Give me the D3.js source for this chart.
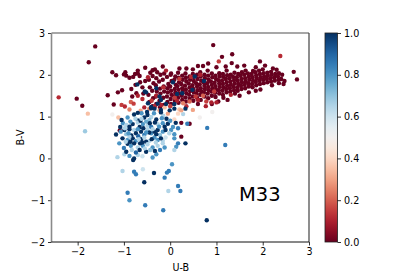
<!doctype html>
<html lang="en">
<head>
  <meta charset="utf-8">
  <title>M33 colour-colour</title>
  <script src="https://d3js.org/d3.v7.min.js"></script>
  <style>
    body { margin: 0; background: #fff; }
    text { font-family: "DejaVu Sans", sans-serif; fill: #000; }
  </style>
</head>
<body>
  <div id="chart"></div>
  <script>
    // axis ticks
    const xTicks = [-2, -1, 0, 1, 2, 3];
    const yTicks = [-2, -1, 0, 1, 2, 3];
    const cbarTicks = [0.0, 0.2, 0.4, 0.6, 0.8, 1.0];

    // dense red giant branch blob [U-B, B-V], probability ~0
    const redBlobProb = 0.0;
    const redBlob = [
      [-0.45,1.35],[-0.47,1.52],[-0.44,1.70],[-0.46,1.88],[-0.43,2.05],
      [-0.38,1.25],[-0.37,1.44],[-0.39,1.62],[-0.36,1.80],[-0.38,1.97],
      [-0.30,1.30],[-0.31,1.48],[-0.29,1.60],[-0.31,1.75],[-0.30,1.92],[-0.28,2.06],
      [-0.22,1.22],[-0.23,1.38],[-0.21,1.55],[-0.22,1.67],[-0.24,1.84],[-0.21,2.00],
      [-0.14,1.28],[-0.15,1.45],[-0.13,1.60],[-0.14,1.72],[-0.16,1.88],[-0.13,2.03],
      [-0.06,1.35],[-0.07,1.48],[-0.05,1.58],[-0.06,1.68],[-0.04,1.78],[-0.07,1.95],
      [0.02,1.30],[0.01,1.42],[0.03,1.52],[0.02,1.62],[0.00,1.72],[0.03,1.85],[0.01,2.00],
      [0.10,1.38],[0.09,1.48],[0.11,1.57],[0.10,1.66],[0.12,1.76],[0.09,1.88],[0.11,1.96],
      [0.18,1.33],[0.17,1.45],[0.19,1.55],[0.18,1.64],[0.16,1.73],[0.19,1.82],[0.18,1.93],[0.17,2.05],
      [0.26,1.40],[0.25,1.50],[0.27,1.60],[0.26,1.68],[0.24,1.78],[0.27,1.88],[0.26,1.98],
      [0.34,1.36],[0.33,1.46],[0.35,1.56],[0.34,1.65],[0.32,1.74],[0.35,1.84],[0.34,1.93],[0.33,2.03],
      [0.42,1.42],[0.41,1.52],[0.43,1.61],[0.42,1.70],[0.40,1.79],[0.43,1.88],[0.42,1.96],
      [0.50,1.38],[0.49,1.48],[0.51,1.58],[0.50,1.66],[0.48,1.75],[0.51,1.85],[0.50,1.95],[0.49,2.02],
      [0.58,1.45],[0.57,1.55],[0.59,1.63],[0.58,1.72],[0.56,1.80],[0.59,1.90],[0.58,2.00],
      [0.66,1.40],[0.65,1.52],[0.67,1.60],[0.66,1.68],[0.64,1.77],[0.67,1.86],[0.66,1.96],[0.65,2.06],
      [0.74,1.48],[0.73,1.58],[0.75,1.66],[0.74,1.74],[0.72,1.82],[0.75,1.92],[0.74,2.00],
      [0.82,1.44],[0.81,1.55],[0.83,1.63],[0.82,1.71],[0.80,1.80],[0.83,1.88],[0.82,1.98],[0.81,2.10],
      [0.90,1.50],[0.89,1.60],[0.91,1.68],[0.90,1.76],[0.88,1.84],[0.91,1.94],[0.90,2.03],
      [0.98,1.47],[0.97,1.57],[0.99,1.65],[0.98,1.73],[0.96,1.81],[0.99,1.90],[0.98,1.98],
      [1.06,1.55],[1.05,1.63],[1.07,1.71],[1.06,1.79],[1.04,1.87],[1.07,1.96],[1.06,2.04],
      [1.14,1.52],[1.13,1.62],[1.15,1.70],[1.14,1.78],[1.12,1.86],[1.15,1.95],[1.14,2.02],
      [1.22,1.58],[1.21,1.66],[1.23,1.74],[1.22,1.82],[1.20,1.90],[1.23,1.99],[1.22,2.10],
      [1.30,1.60],[1.29,1.68],[1.31,1.76],[1.30,1.84],[1.28,1.92],[1.31,2.00],
      [1.38,1.63],[1.37,1.71],[1.39,1.79],[1.38,1.87],[1.36,1.95],[1.39,2.05],
      [1.46,1.62],[1.45,1.70],[1.47,1.78],[1.46,1.86],[1.44,1.94],[1.47,2.02],
      [1.54,1.66],[1.53,1.74],[1.55,1.82],[1.54,1.90],[1.52,1.98],[1.55,2.06],
      [1.62,1.68],[1.61,1.76],[1.63,1.84],[1.62,1.92],[1.60,2.00],[1.63,2.10],
      [1.70,1.72],[1.69,1.80],[1.71,1.88],[1.70,1.96],[1.68,2.03],
      [1.78,1.70],[1.77,1.78],[1.79,1.86],[1.78,1.94],[1.76,2.02],[1.79,2.09],
      [1.86,1.75],[1.85,1.83],[1.87,1.91],[1.86,1.99],[1.84,2.06],
      [1.94,1.78],[1.93,1.86],[1.95,1.94],[1.94,2.02],[1.92,2.10],
      [2.02,1.80],[2.01,1.88],[2.03,1.96],[2.02,2.04],[2.00,2.13],
      [2.10,1.82],[2.09,1.90],[2.11,1.98],[2.10,2.05],
      [2.18,1.84],[2.17,1.92],[2.19,2.00],[2.18,2.07],
      [2.26,1.86],[2.25,1.94],[2.27,2.02],
      [2.34,1.88],[2.33,1.96],[2.35,2.04],
      [2.40,1.90],[2.42,2.00],
      // halo around the blob
      [-0.33,2.13],[-0.16,2.20],[-0.54,2.17],[-0.38,2.11],[-0.70,2.03],[-0.66,1.97],
      [-0.88,1.93],[-0.54,1.85],[-0.60,1.70],[-0.58,1.55],[-0.65,1.82],
      [0.35,2.15],[0.49,2.13],[0.60,2.21],[0.71,2.21],[0.82,2.27],[1.33,2.28],[1.45,2.20],
      [1.60,2.22],[1.85,2.18],[2.05,2.22],[2.22,2.15],[0.02,2.03],[0.20,2.15],[1.00,2.18],
      [1.20,2.20],[0.93,2.71],[1.12,2.43],[1.34,2.49],[1.94,2.32],[2.67,2.07],[2.74,1.89],
      [0.90,1.30],[1.04,1.36],[1.24,1.40],[1.50,1.50],[1.70,1.58],[1.95,1.65],[2.20,1.75],
      [2.35,1.80],[2.45,1.78],[2.47,1.85],[0.60,1.30],[1.15,1.45],[1.40,1.55],[1.85,1.62],[2.30,2.12],
      // isolated dark red stars
      [-1.62,2.68],[-1.76,2.30],[-2.02,1.43],[-1.90,1.26],[-1.35,1.51],[-1.25,2.06],
      [-1.17,1.99],[-1.00,2.01],[-0.95,1.98],[-0.97,2.06],[-0.80,1.95],[-0.76,2.02],
      [-0.70,2.10],[-1.13,1.58],[-1.04,1.63],[-1.22,1.29],[-0.82,1.48],[-0.73,1.56],
      [-0.84,1.66],[-0.75,1.76],[-1.09,0.67],[0.24,0.52],[0.42,0.83],[0.24,0.85]
    ];

    // red / orange / white stars at the lower edge [U-B, B-V, prob]
    const mixedStars = [
      [-0.48,1.94,0.10],[-0.09,2.10,0.10],[0.55,1.48,0.15],[0.71,1.50,0.20],[0.78,1.36,0.15],
      [0.89,1.34,0.10],[0.28,1.32,0.25],[0.42,1.36,0.20],[0.49,1.16,0.30],[1.05,2.32,0.15],
      [2.38,2.45,0.12],[1.31,1.52,0.10],[0.77,1.25,0.10],[1.00,1.34,0.10],
      [-0.60,1.42,0.12],[-0.40,1.38,0.15],[-0.20,1.28,0.10],[0.00,1.25,0.15],[0.15,1.38,0.10],
      [0.35,1.25,0.12],[-0.70,1.50,0.10],[-0.30,1.50,0.10],[0.10,1.45,0.15],[0.60,1.40,0.10],
      [-0.85,1.35,0.20],[-1.05,1.28,0.15],[0.20,1.90,0.15],[0.45,1.95,0.12],[-0.15,1.70,0.12],
      [0.95,1.60,0.15],[0.65,2.00,0.10],
      [-2.41,1.46,0.12],[-1.78,1.07,0.35],[-1.84,0.65,0.68],[-1.25,1.05,0.50],[-1.12,0.98,0.35],
      [-0.98,1.24,0.12],[-0.88,1.17,0.25],[-0.79,1.31,0.15],[-0.64,1.14,0.30],[-0.56,1.22,0.10],
      [-0.45,1.19,0.25],[-0.33,1.25,0.12],[-0.23,1.15,0.30],[-0.12,1.22,0.35],[-0.05,1.07,0.30],
      [0.09,0.93,0.40],[0.20,1.17,0.35],[0.28,1.06,0.65],[0.64,0.98,0.50],[0.91,1.11,0.50],
      [0.24,1.15,0.30],[0.17,1.07,0.40]
    ];

    // blue main-sequence clump [U-B, B-V, prob]
    const blueStars = [
      [-0.92,0.98,0.80],[-0.70,0.91,1.00],[-0.56,0.98,1.00],[-0.49,1.04,1.00],[-0.41,0.99,0.65],
      [-0.30,0.93,1.00],[-0.15,1.02,0.65],[-0.08,0.95,1.00],[-0.62,1.08,0.80],[-0.78,1.05,1.00],
      [-0.35,1.08,0.80],[-0.20,1.10,1.00],[-0.45,0.92,0.70],
      [-1.02,0.84,0.80],[-0.95,0.80,0.65],[-0.81,0.82,1.00],[-0.70,0.86,0.65],[-0.59,0.82,0.80],
      [-0.49,0.78,0.65],[-0.41,0.75,0.85],[-0.27,0.82,0.65],[-0.16,0.84,0.80],[0.06,0.75,0.80],
      [0.17,0.72,0.85],[-0.88,0.76,1.00],[-0.66,0.75,1.00],[-0.52,0.88,0.75],[-0.33,0.86,1.00],
      [-0.05,0.83,1.00],[-0.12,0.76,1.00],
      [-1.17,0.57,1.00],[-1.07,0.64,0.80],[-0.99,0.68,1.00],[-0.88,0.70,1.00],[-0.78,0.68,0.65],
      [-0.74,0.60,1.00],[-0.63,0.64,1.00],[-0.49,0.68,0.65],[-0.41,0.60,0.80],[-0.34,0.64,1.00],
      [-0.27,0.68,1.00],[-0.16,0.64,0.80],[0.02,0.68,0.80],[0.09,0.58,0.80],[-0.95,0.58,0.70],
      [-0.56,0.56,0.85],[-0.84,0.55,1.00],[-0.22,0.56,0.70],
      [-1.03,0.48,1.00],[-0.92,0.44,0.80],[-0.81,0.48,1.00],[-0.74,0.42,0.80],[-0.63,0.46,1.00],
      [-0.56,0.50,0.65],[-0.45,0.42,0.65],[-0.34,0.50,0.80],[-0.27,0.44,0.80],[-0.16,0.42,0.65],
      [0.09,0.48,0.80],[-0.88,0.52,0.65],[-0.69,0.53,0.90],[-0.52,0.40,1.00],[-0.10,0.50,0.60],
      [-0.92,0.35,1.00],[-0.85,0.30,0.80],[-0.78,0.36,1.00],[-0.70,0.26,0.65],[-0.59,0.30,0.80],
      [-0.49,0.34,0.65],[-0.38,0.26,0.80],[-0.27,0.30,0.65],[-0.16,0.36,0.65],[0.13,0.28,0.80],
      [-1.00,0.25,0.85],[-0.65,0.36,1.00],[-0.43,0.20,0.70],[-0.22,0.20,0.85],[0.17,0.36,0.85],
      [-1.14,0.03,0.65],[-0.99,0.10,0.65],[-0.88,0.06,0.80],[-0.78,0.00,1.00],[-0.80,-0.04,1.00],
      [-0.70,0.08,0.65],[-0.52,0.16,1.00],[-0.30,0.10,0.80],[0.09,0.20,0.65],[-0.60,0.05,0.60],
      [-0.38,0.02,0.80],[-0.95,0.16,1.00],[-0.74,0.14,0.90],
      [-1.05,0.92,1.00],[-0.98,0.72,0.65],[-0.86,0.88,0.80],[-0.75,0.95,0.65],[-0.64,0.90,1.00],
      [-0.58,0.72,1.00],[-0.45,0.62,1.00],[-0.38,0.70,0.65],[-0.30,0.58,1.00],[-0.24,0.76,0.80],
      [-0.10,0.68,1.00],[-0.02,0.60,0.65],[-0.96,0.40,0.65],[-0.86,0.40,1.00],[-0.68,0.46,0.65],
      [-0.60,0.38,1.00],[-0.40,0.46,1.00],[-0.31,0.38,0.65],[-0.20,0.48,1.00],[-0.83,0.20,0.65],
      [-0.66,0.20,1.00],[-0.55,0.24,0.65],[-0.33,0.18,1.00],[-0.12,0.26,0.80],[-1.10,0.36,0.80],
      [-1.08,0.75,1.00],[-0.90,0.60,0.80],[-0.70,0.70,0.80],[-0.52,0.62,0.80],[-0.44,0.84,1.00],
      [0.00,0.90,0.80],[0.12,0.85,1.00],[-0.62,0.95,0.65],[-0.18,0.96,0.80],
      // sparse blue stars
      [-1.03,-0.30,0.65],[-0.92,-0.82,0.85],[-0.88,-1.00,0.80],[-0.78,-0.32,0.85],[-0.74,-0.38,0.85],
      [-0.56,-0.57,1.00],[-0.59,-0.26,0.60],[-0.54,-1.12,0.85],[-0.35,-0.35,1.00],[-0.15,-1.24,0.85],
      [-0.12,-0.46,0.85],[-0.07,-0.34,0.85],[-0.03,-0.30,0.85],[0.04,-0.14,0.80],[-0.04,-0.78,0.65],
      [0.17,-0.66,0.85],[0.22,-0.78,0.85],[0.79,-1.48,1.00],[0.80,0.73,0.85],[1.19,0.32,0.85],
      [0.33,0.36,1.00],[0.37,0.83,0.85],
      // blue stars sitting inside the red blob
      [0.73,1.85,1.00],[0.53,1.96,1.00],[0.48,1.64,1.00],[0.15,1.54,1.00],[0.26,1.56,1.00],
      [0.06,1.82,1.00],[-0.30,1.68,1.00],[-0.52,1.58,1.00],[-0.23,1.48,1.00],[-0.20,1.40,1.00],
      [-0.09,1.30,1.00],[0.09,1.30,1.00],[-0.48,1.32,1.00],[-0.41,1.20,1.00],[-0.20,1.16,1.00],
      [-0.71,1.77,1.00],[-0.55,1.60,1.00],[-0.70,1.09,1.00],[-0.50,1.11,1.00],[-0.41,1.23,1.00],
      [-0.34,1.19,1.00],[-0.27,1.31,1.00],[-0.01,1.15,1.00],[0.09,1.19,1.00],[0.33,1.19,1.00]
    ];

    const W = 415, H = 277;
    const plot = { left: 51.5, right: 309, top: 33, bottom: 242 };
    const cbar = { left: 325, right: 337.5 };

    const svg = d3.select('#chart').append('svg')
      .attr('width', W).attr('height', H);

    const x = d3.scaleLinear().domain([-2.565, 3]).range([plot.left, plot.right]);
    const y = d3.scaleLinear().domain([-2, 3]).range([plot.bottom, plot.top]);
    const color = d => d3.interpolateRdBu(d);

    svg.append('clipPath').attr('id', 'clip').append('rect')
      .attr('x', plot.left).attr('y', plot.top)
      .attr('width', plot.right - plot.left).attr('height', plot.bottom - plot.top);

    const dots = svg.append('g').attr('clip-path', 'url(#clip)');
    const r = 2.2;

    dots.append('g').selectAll('circle')
      .data(redBlob).join('circle')
      .attr('cx', d => x(d[0])).attr('cy', d => y(d[1]))
      .attr('r', r).attr('fill', color(redBlobProb));

    [mixedStars, blueStars].forEach(set => {
      dots.append('g').selectAll('circle')
        .data(set).join('circle')
        .attr('cx', d => x(d[0])).attr('cy', d => y(d[1]))
        .attr('r', r).attr('fill', d => color(d[2]));
    });

    // axes
    const xAxis = svg.append('g')
      .attr('transform', `translate(0,${plot.bottom})`)
      .call(d3.axisBottom(x).tickValues(xTicks).tickSize(3.5).tickPadding(3)
        .tickFormat(d => d < 0 ? '\u2212' + Math.abs(d) : d));
    const yAxis = svg.append('g')
      .attr('transform', `translate(${plot.left},0)`)
      .call(d3.axisLeft(y).tickValues(yTicks).tickSize(3.5).tickPadding(3)
        .tickFormat(d => d < 0 ? '\u2212' + Math.abs(d) : d));
    [xAxis, yAxis].forEach(a => {
      a.select('.domain').remove();
      a.selectAll('text').style('font-size', '9.6px').attr('fill', '#000');
      a.selectAll('line').attr('stroke', '#000').attr('stroke-width', 0.8);
    });

    // spines
    const spine = (x1, y1, x2, y2, c, w) => svg.append('line')
      .attr('x1', x1).attr('y1', y1).attr('x2', x2).attr('y2', y2)
      .attr('stroke', c).attr('stroke-width', w);
    spine(plot.left, plot.top, plot.right, plot.top, '#8a8a8a', 1.6);
    spine(plot.left, plot.top, plot.left, plot.bottom, '#8a8a8a', 1.6);
    spine(plot.right, plot.top, plot.right, plot.bottom, '#444', 1.2);
    spine(plot.left, plot.bottom, plot.right, plot.bottom, '#111', 1);

    svg.append('text')
      .attr('x', (plot.left + plot.right) / 2 + 0.5).attr('y', 270.5)
      .attr('text-anchor', 'middle').style('font-size', '9.6px').text('U-B');
    svg.append('text')
      .attr('transform', `translate(23.5,${(plot.top + plot.bottom) / 2}) rotate(-90)`)
      .attr('text-anchor', 'middle').style('font-size', '9.6px').text('B-V');

    svg.append('text')
      .attr('x', 239).attr('y', 200.5)
      .style('font-size', '19.5px').text('M33');

    // colorbar
    const grad = svg.append('defs').append('linearGradient')
      .attr('id', 'rdbu').attr('x1', 0).attr('y1', 1).attr('x2', 0).attr('y2', 0);
    d3.range(0, 1.0001, 0.05).forEach(t => {
      grad.append('stop').attr('offset', t).attr('stop-color', color(t));
    });
    const cy = d3.scaleLinear().domain([0, 1]).range([plot.bottom, plot.top]);
    svg.append('rect')
      .attr('x', cbar.left).attr('y', plot.top)
      .attr('width', cbar.right - cbar.left).attr('height', plot.bottom - plot.top)
      .attr('fill', 'url(#rdbu)').attr('stroke', '#222').attr('stroke-width', 0.8);
    const cAxis = svg.append('g')
      .attr('transform', `translate(${cbar.right},0)`)
      .call(d3.axisRight(cy).tickValues(cbarTicks).tickSize(3.5).tickPadding(3)
        .tickFormat(d3.format('.1f')));
    cAxis.select('.domain').remove();
    cAxis.selectAll('text').style('font-size', '9.6px').attr('fill', '#000');
    cAxis.selectAll('line').attr('stroke', '#000').attr('stroke-width', 0.8);
  </script>
</body>
</html>
